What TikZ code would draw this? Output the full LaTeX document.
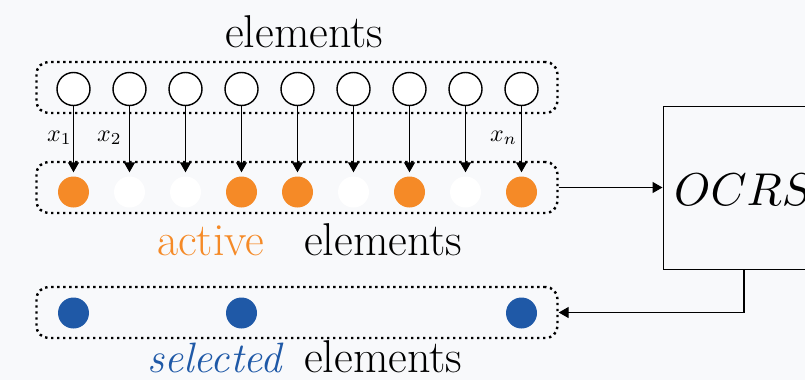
\documentclass[tikz,border=0pt]{standalone}
\usepackage{graphicx}
\usetikzlibrary{arrows.meta}
\definecolor{bg}{HTML}{F8F9FB}
\definecolor{actorange}{HTML}{F58A27}
\definecolor{selblue}{HTML}{1F59A7}
\begin{document}
\begin{tikzpicture}[x=1pt,y=-1pt,
  groupbox/.style={draw, line width=2.4pt, dash pattern=on 2.4pt off 3.6pt,
    rounded corners=12pt, minimum width=521pt, minimum height=51pt, inner sep=0pt},
  elem/.style={circle, draw, line width=1.4pt, fill=white, minimum size=33pt, inner sep=0pt},
  dotnode/.style={circle, minimum size=31pt, inner sep=0pt},
  link/.style={line width=1.4pt, -{Triangle[width=11pt,length=10pt]}},
  biglbl/.style={font=\fontsize{46}{52}\selectfont, inner sep=0pt, anchor=base west},
  xlbl/.style={inner sep=0pt, anchor=base west}]
\fill[bg] (0,0) rectangle (805,380);
\clip (0,0) rectangle (805,380);

% group frames
\node[groupbox] (topbox) at (297,87.5) {};
\node[groupbox] (midbox) at (297,187.5) {};
\node[groupbox] (botbox) at (297,312.5) {};

% input elements and their active/inactive copies
\foreach \i/\c in {0/actorange,1/white,2/white,3/actorange,4/actorange,5/white,6/actorange,7/white,8/actorange} {
  \node[elem] (t\i) at ({73.5+56*\i},89) {};
  \node[dotnode, fill=\c] (m\i) at ({73.5+56*\i},192) {};
  \draw[link, shorten >=4pt] (t\i) -- (m\i);
}

% selected elements
\foreach \i in {0,3,8} {
  \node[dotnode, fill=selblue] (b\i) at ({73.5+56*\i},313) {};
}

% edge labels
\node[xlbl] (l1) at (47,141) {\scalebox{2.4}{$x_1$}};
\node[xlbl] (l2) at (97,141) {\scalebox{2.4}{$x_2$}};
\node[xlbl] (ln) at (490,141) {\scalebox{2.4}{$x_n$}};

% captions
\node[biglbl] (cap1) at (225,47) {elements};
\node[biglbl, text=actorange] (cap2a) at (157,255) {active};
\node[biglbl] (cap2b) at (304,255) {elements};
\node[biglbl, text=selblue, font=\fontsize{42.5}{50}\selectfont\itshape] (cap3a) at (147,372) {selected};
\node[biglbl] (cap3b) at (304,372) {elements};

% OCRS block
\node[draw, line width=1.4pt, minimum width=240pt, minimum height=163pt, inner sep=0pt,
  anchor=north west] (ocrs) at (662.5,106) {};
\node[inner sep=0pt, anchor=base west] (ocrslbl) at (674,205) {\scalebox{4.6}{$OCRS$}};
\coordinate (turn) at (744,312.5);
\draw[link] (midbox.east) -- (midbox.east -| ocrs.west);
\draw[link] (turn |- ocrs.south) -- (turn) -- (botbox.east);
\end{tikzpicture}
\end{document}
